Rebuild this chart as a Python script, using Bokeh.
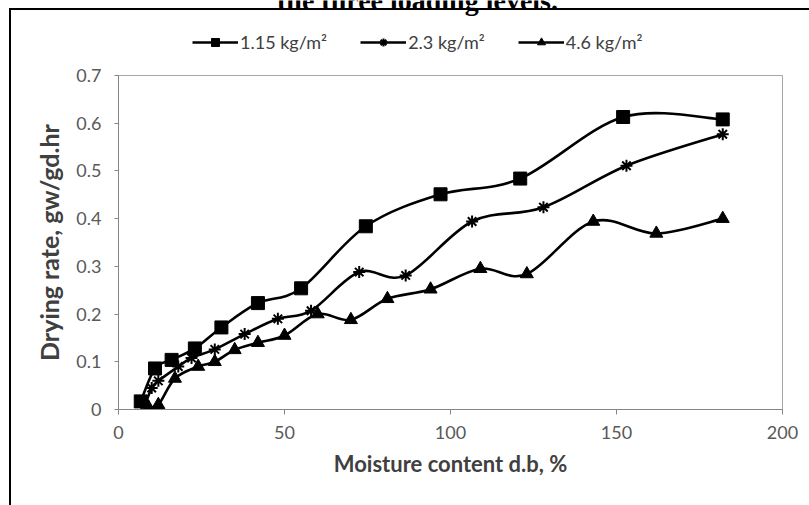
import numpy as np
from bokeh.plotting import figure
from bokeh.layouts import column
from bokeh.models import (Range1d, Legend, LegendItem, Label, FixedTicker,
                          NumeralTickFormatter)
from bokeh.embed import file_html
from bokeh.resources import INLINE

# ---- data ----
series_labels = ["1.15 kg/m\u00b2", "2.3 kg/m\u00b2", "4.6 kg/m\u00b2"]

x_115 = [6.7, 11, 16, 23, 31, 42, 55, 74.5, 97, 121, 152, 182]
y_115 = [0.017, 0.086, 0.104, 0.128, 0.172, 0.223, 0.254, 0.384, 0.451, 0.484, 0.613, 0.608]

x_23 = [8, 10, 12, 18, 22, 29, 38, 48, 58, 72.5, 86.5, 106.5, 128, 153, 182]
y_23 = [0.01, 0.045, 0.06, 0.09, 0.108, 0.126, 0.158, 0.19, 0.207, 0.288, 0.281, 0.394, 0.424, 0.511, 0.577]

x_46 = [9, 12, 17, 24, 29, 35, 42, 50, 60, 70, 81, 94, 109, 123, 143, 162, 182]
y_46 = [0.005, 0.01, 0.065, 0.09, 0.1, 0.125, 0.14, 0.155, 0.2, 0.188, 0.232, 0.252, 0.295, 0.284, 0.394, 0.369, 0.4]

x_ticks = [0, 50, 100, 150, 200]
y_ticks = [0, 0.1, 0.2, 0.3, 0.4, 0.5, 0.6, 0.7]

title_text = "the three loading levels."
x_title = "Moisture content d.b, %"
y_title = "Drying rate, gw/gd.hr"


def smooth_segments(xs, ys, t=1.0 / 6.0):
    xs = np.asarray(xs, float)
    ys = np.asarray(ys, float)
    n = len(xs)
    px = np.concatenate([[xs[0]], xs, [xs[-1]]])
    py = np.concatenate([[ys[0]], ys, [ys[-1]]])
    d = dict(x0=[], y0=[], x1=[], y1=[], cx0=[], cy0=[], cx1=[], cy1=[])
    for i in range(n - 1):
        p0x, p0y = px[i], py[i]
        p1x, p1y = px[i + 1], py[i + 1]
        p2x, p2y = px[i + 2], py[i + 2]
        p3x, p3y = px[i + 3], py[i + 3]
        d["x0"].append(p1x); d["y0"].append(p1y)
        d["x1"].append(p2x); d["y1"].append(p2y)
        d["cx0"].append(p1x + (p2x - p0x) * t); d["cy0"].append(p1y + (p2y - p0y) * t)
        d["cx1"].append(p2x - (p3x - p1x) * t); d["cy1"].append(p2y - (p3y - p1y) * t)
    return d


W, H = 809, 505
TOP_H = 60
FL, FR, FT, FB = 118, 782, 75, 409
main_h = H - TOP_H

markers = ["square", "asterisk", "triangle"]
sizes = [13, 12, 13]
data = [(x_115, y_115), (x_23, y_23), (x_46, y_46)]

# ---------- strip above the plot: page caption + legend ----------
# (its frame is aligned by the column layout with the main plot's frame: x 118..782)
top = figure(width=W, height=TOP_H, output_backend="svg", toolbar_location=None,
             title=None, x_range=Range1d(FL, FR), y_range=Range1d(TOP_H, 0),
             x_axis_type=None, y_axis_type=None,
             min_border_left=0, min_border_right=0, min_border_top=0, min_border_bottom=0)
top.xgrid.visible = False
top.ygrid.visible = False
top.outline_line_color = None
top.background_fill_color = None
top.border_fill_color = None
top.styles = {"background": "linear-gradient(#000,#000) 9px 8px / 2px 100% no-repeat, "
                            "linear-gradient(#000,#000) 9px 8px / 100% 2px no-repeat, #fff"}

top.add_layout(Label(x=417, y=0, text=title_text, text_align="center",
                     text_baseline="alphabetic", text_font="Liberation Serif",
                     text_font_style="bold", text_font_size="28px", text_color="black"))

items = []
for (xs, ys), mk, sz, lab in zip(data, markers, sizes, series_labels):
    ln = top.line(x=xs, y=ys, line_color="black", line_width=2.6, visible=False)
    sc = top.scatter(x=xs, y=ys, marker=mk, size=sz, fill_color="black", line_color="black",
                     line_width=2 if mk == "asterisk" else 1, visible=False)
    items.append(LegendItem(label=lab, renderers=[ln, sc]))

legend = Legend(items=items, orientation="horizontal", location=(192 - FL, TOP_H - 33 - 20),
                glyph_width=46, glyph_height=20, label_standoff=2, spacing=33,
                padding=0, margin=0, border_line_alpha=0, background_fill_alpha=0,
                label_text_font="Lato", label_text_font_size="18px",
                label_text_color="#404040", label_height=20)
top.add_layout(legend, "center")

# ---------- main chart ----------
p = figure(width=W, height=main_h, output_backend="svg", toolbar_location=None, title=None,
           x_range=Range1d(0, 200), y_range=Range1d(0, 0.7),
           min_border_left=FL, min_border_right=W - FR,
           min_border_top=FT - TOP_H, min_border_bottom=H - FB)
p.styles = {"background": "linear-gradient(#000,#000) 9px 0px / 2px 100% no-repeat, #fff"}
p.background_fill_color = "white"
p.border_fill_color = None
p.outline_line_color = "#a6a6a6"
p.outline_line_width = 1
p.xgrid.visible = False
p.ygrid.visible = False

for ax in (p.xaxis[0], p.yaxis[0]):
    ax.axis_line_color = "#868686"
    ax.major_tick_line_color = "#868686"
    ax.minor_tick_line_color = None
    ax.major_tick_in = 0
    ax.major_label_text_font = "Lato"
    ax.major_label_text_font_size = "18px"
    ax.major_label_text_color = "#595959"
    ax.axis_label_text_font = "Lato"
    ax.axis_label_text_font_style = "bold"
    ax.axis_label_text_color = "#404040"
p.xaxis.axis_label_text_font_size = "22px"
p.yaxis.axis_label_text_font_size = "25px"
p.xaxis.ticker = FixedTicker(ticks=x_ticks)
p.yaxis.ticker = FixedTicker(ticks=y_ticks)
p.yaxis.formatter = NumeralTickFormatter(format="0.[0]")
p.xaxis.major_tick_out = 5
p.yaxis.major_tick_out = 4
p.xaxis.major_label_standoff = 11
p.yaxis.major_label_standoff = 13
p.xaxis.axis_label = x_title
p.yaxis.axis_label = y_title
p.xaxis.axis_label_standoff = 8
p.yaxis.axis_label_standoff = 9

for (xs, ys), mk, sz in zip(data, markers, sizes):
    seg = smooth_segments(xs, ys)
    p.bezier(x0="x0", y0="y0", x1="x1", y1="y1", cx0="cx0", cy0="cy0",
             cx1="cx1", cy1="cy1", source=seg, line_color="black", line_width=2.6)
    p.scatter(xs, ys, marker=mk, size=sz, fill_color="black",
              line_color="black", line_width=2 if mk == "asterisk" else 1)

layout = column(top, p, spacing=0)
open("out.html", "w").write(file_html(layout, INLINE))
